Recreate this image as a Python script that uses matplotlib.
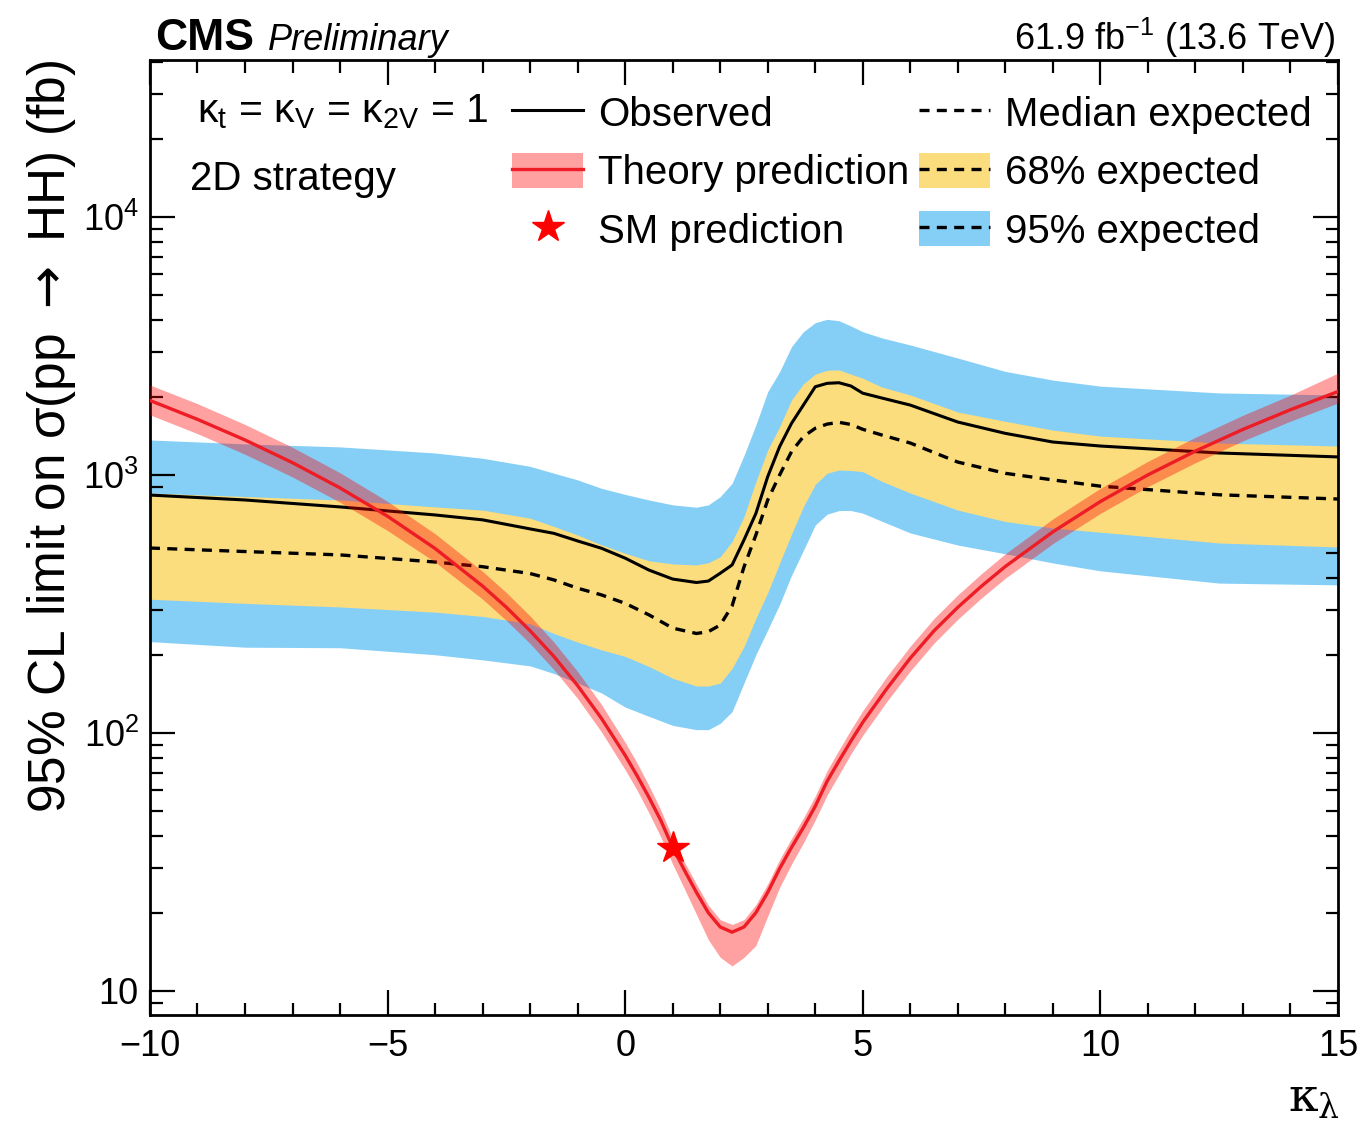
import math
import matplotlib
matplotlib.use('Agg')
import matplotlib.pyplot as plt
from matplotlib.lines import Line2D
from matplotlib.patches import Patch
from matplotlib.ticker import MultipleLocator, LogLocator, FuncFormatter, NullFormatter

plt.rcParams['font.family'] = ['Liberation Sans', 'DejaVu Sans']
plt.rcParams['mathtext.fontset'] = 'custom'
plt.rcParams['mathtext.rm'] = 'Liberation Sans'
plt.rcParams['mathtext.it'] = 'Liberation Sans:italic'
plt.rcParams['mathtext.bf'] = 'Liberation Sans:bold'

# --- limit scan in kappa_lambda (fb) ---
kl = [-10, -8, -6, -4, -3, -2, -1.5, -1, -0.5, 0, 0.5, 1, 1.5, 1.75, 2, 2.25,
      2.5, 2.75, 3, 3.25, 3.5, 3.75, 4, 4.25, 4.5, 4.75, 5, 5.4, 6, 7, 8, 9,
      10, 12.5, 15]
obs = [836, 800, 752, 700, 670, 618, 594, 555, 520, 476, 428, 395, 383, 388,
       416, 448, 560, 709, 986, 1288, 1585, 1866, 2198, 2266, 2278, 2213, 2075,
       1988, 1866, 1604, 1450, 1342, 1295, 1217, 1175]
exp_med = [521, 505, 490, 460, 441, 415, 392, 364, 343, 318, 287, 255, 243,
           247, 262, 311, 440, 585, 800, 1000, 1231, 1409, 1517, 1575, 1600,
           1570, 1503, 1429, 1330, 1122, 1015, 957, 905, 838, 807]
exp_68_hi = [851, 825, 800, 752, 731, 680, 632, 585, 536, 497, 465, 452, 448,
             457, 482, 552, 689, 942, 1250, 1539, 1954, 2254, 2460, 2547, 2553,
             2460, 2371, 2193, 2042, 1754, 1615, 1493, 1415, 1330, 1295]
exp_68_lo = [330, 318, 308, 294, 283, 265, 243, 225, 210, 198, 181, 163, 152,
             152, 156, 178, 216, 278, 350, 455, 590, 754, 920, 1016, 1045, 1041,
             1030, 945, 851, 731, 660, 623, 600, 545, 526]
exp_95_hi = [1367, 1320, 1285, 1217, 1161, 1080, 1016, 957, 888, 841, 800, 766,
             750, 766, 824, 928, 1190, 1563, 2103, 2514, 3142, 3592, 3894, 4012,
             3962, 3780, 3592, 3400, 3191, 2840, 2520, 2333, 2210, 2080, 2042]
exp_95_lo = [226, 215, 214, 201, 192, 182, 170, 156, 143, 126, 116, 107, 103,
             103, 109, 121, 156, 201, 251, 315, 408, 510, 640, 705, 728, 728,
             711, 662, 596, 535, 495, 456, 425, 381, 375]

# --- theory prediction (fb) ---
kl_th = [-10, -9, -8, -7, -6, -5, -4, -3, -2.5, -2, -1.5, -1, -0.5, 0, 0.25,
         0.5, 0.75, 1, 1.25, 1.5, 1.75, 2, 2.25, 2.5, 2.75, 3, 3.25, 3.5, 3.75,
         4, 4.25, 4.5, 4.75, 5, 5.5, 6, 6.5, 7, 7.5, 8, 9, 10, 11, 12, 13, 14, 15]
th = [1945, 1643, 1367, 1116, 891, 692, 519, 371, 307, 249, 198, 152.6, 114,
      81.9, 68.3, 56.3, 45.8, 36.0, 29.3, 24.1, 20.1, 17.7, 16.9, 17.7, 20.1,
      24.1, 29.8, 36, 43, 52, 65, 78, 93, 110, 148, 195, 249, 307, 371, 442,
      602, 789, 1001, 1238, 1502, 1791, 2106]
th_hi = [2233, 1890, 1570, 1280, 1020, 790, 592, 423, 350, 284, 225, 173, 129,
         92, 76.5, 62.5, 50.2, 39, 31.5, 25.9, 21.5, 18.9, 18.1, 18.9, 21.6,
         26.0, 32.3, 39, 46.8, 57, 71.5, 86, 103, 122, 165, 217, 278, 343, 415,
         495, 676, 888, 1130, 1400, 1705, 2040, 2483]
th_lo = [1711, 1446, 1203, 982, 784, 609, 460, 330, 273, 222, 176, 136, 101,
         72, 60, 49, 39.5, 31, 24.8, 19.8, 15.8, 13.5, 12.5, 13.5, 15.0, 19.5,
         25.2, 31, 37.5, 46, 57.5, 69, 83, 98, 132, 174, 223, 276, 334, 398,
         542, 710, 902, 1116, 1356, 1617, 1901]

sm_kl = [1.0]
sm_xs = [35.8]

c_blue = '#85cff6'
c_yellow = '#fbdd7d'
c_red = '#ee1c25'
dash = (0, (3, 2.2))

fig = plt.figure(figsize=(13.57, 11.26), dpi=100)
ax = fig.add_axes([0.1105, 0.0986, 0.8755, 0.8481])

ax.fill_between(kl, exp_95_lo, exp_95_hi, color=c_blue, lw=0, zorder=1)
ax.fill_between(kl, exp_68_lo, exp_68_hi, color=c_yellow, lw=0, zorder=2)
ax.plot(kl, exp_med, color='black', lw=2.4, ls=dash, zorder=3)
ax.plot(kl, obs, color='black', lw=2.2, zorder=4)
ax.fill_between(kl_th, th_lo, th_hi, color='red', alpha=0.37, lw=0, zorder=5)
ax.plot(kl_th, th, color=c_red, lw=2.4, zorder=6)
ax.plot(sm_kl, sm_xs, marker='*', color='red', ms=24, ls='none', zorder=7)

ax.set_xlim(-10, 15)
ax.set_yscale('log')
ax.set_ylim(8.07, 40600)

ax.xaxis.set_major_locator(MultipleLocator(5))
ax.xaxis.set_minor_locator(MultipleLocator(1))
ax.yaxis.set_major_locator(LogLocator(base=10, numticks=10))
ax.yaxis.set_minor_locator(LogLocator(base=10, subs=range(2, 10), numticks=10))
ax.yaxis.set_minor_formatter(NullFormatter())


def ylab(v, pos):
    e = int(round(math.log10(v)))
    if e == 1:
        return '10'
    return r'$\mathregular{10^{%d}}$' % e


ax.yaxis.set_major_formatter(FuncFormatter(ylab))
ax.xaxis.set_major_formatter(FuncFormatter(lambda v, p: ('%g' % v).replace('-', '\u2212')))

ax.tick_params(which='both', direction='in', top=True, right=True, width=1.6,
               labelsize=26, colors='black')
ax.tick_params(which='major', length=18)
ax.tick_params(which='minor', length=9)
ax.tick_params(axis='x', pad=10)
ax.tick_params(axis='y', pad=8)
for s in ax.spines.values():
    s.set_linewidth(2)

# axis titles
fig.text(52 / 1357, 1 - 60 / 1126, r'95% CL limit on σ(pp $\rightarrow$ HH) (fb)',
         rotation=90, ha='center', va='top', fontsize=37, math_fontfamily='dejavusans')
fig.text(1340 / 1357, 1 - 1112 / 1126, r'$\mathrm{\kappa_{\lambda}}$', ha='right',
         va='baseline', fontsize=34, math_fontfamily='dejavuserif')

# header
fig.text(155 / 1357, 1 - 50 / 1126, 'CMS', fontsize=32, fontweight='bold', va='baseline')
fig.text(268 / 1357, 1 - 50 / 1126, 'Preliminary', fontsize=26, style='italic', va='baseline')
fig.text(1335 / 1357, 1 - 50 / 1126, r'61.9 fb$^{\mathregular{-1}}$ (13.6 TeV)', fontsize=26,
         ha='right', va='baseline')

# in-plot labels
fig.text(197 / 1357, 1 - 122 / 1126,
         r'κ$_{\mathregular{t}}$ = κ$_{\mathregular{V}}$ = κ$_{\mathregular{2V}}$ = 1',
         fontsize=29.5, va='baseline')
fig.text(190 / 1357, 1 - 190 / 1126, '2D strategy', fontsize=29, va='baseline')

# legend
h_obs = Line2D([], [], color='black', lw=2.2)
h_th = (Patch(facecolor='red', alpha=0.37, lw=0), Line2D([], [], color=c_red, lw=2.4))
h_sm = Line2D([], [], color='red', marker='*', ms=24, ls='none')
h_med = Line2D([], [], color='black', lw=2.4, ls=dash)
h_68 = (Patch(facecolor=c_yellow, lw=0), Line2D([], [], color='black', lw=2.4, ls=dash))
h_95 = (Patch(facecolor=c_blue, lw=0), Line2D([], [], color='black', lw=2.4, ls=dash))

leg = ax.legend([h_obs, h_th, h_sm, h_med, h_68, h_95],
                ['Observed', 'Theory prediction', 'SM prediction',
                 'Median expected', '68% expected', '95% expected'],
                ncol=2, loc='upper left', bbox_to_anchor=(0.305, 0.964),
                frameon=False, fontsize=29, handlelength=1.75, handleheight=0.95,
                handletextpad=0.375, columnspacing=0.25, labelspacing=0.48,
                borderpad=0, borderaxespad=0)
leg.set_zorder(10)

fig.savefig('out.png', dpi=100)
